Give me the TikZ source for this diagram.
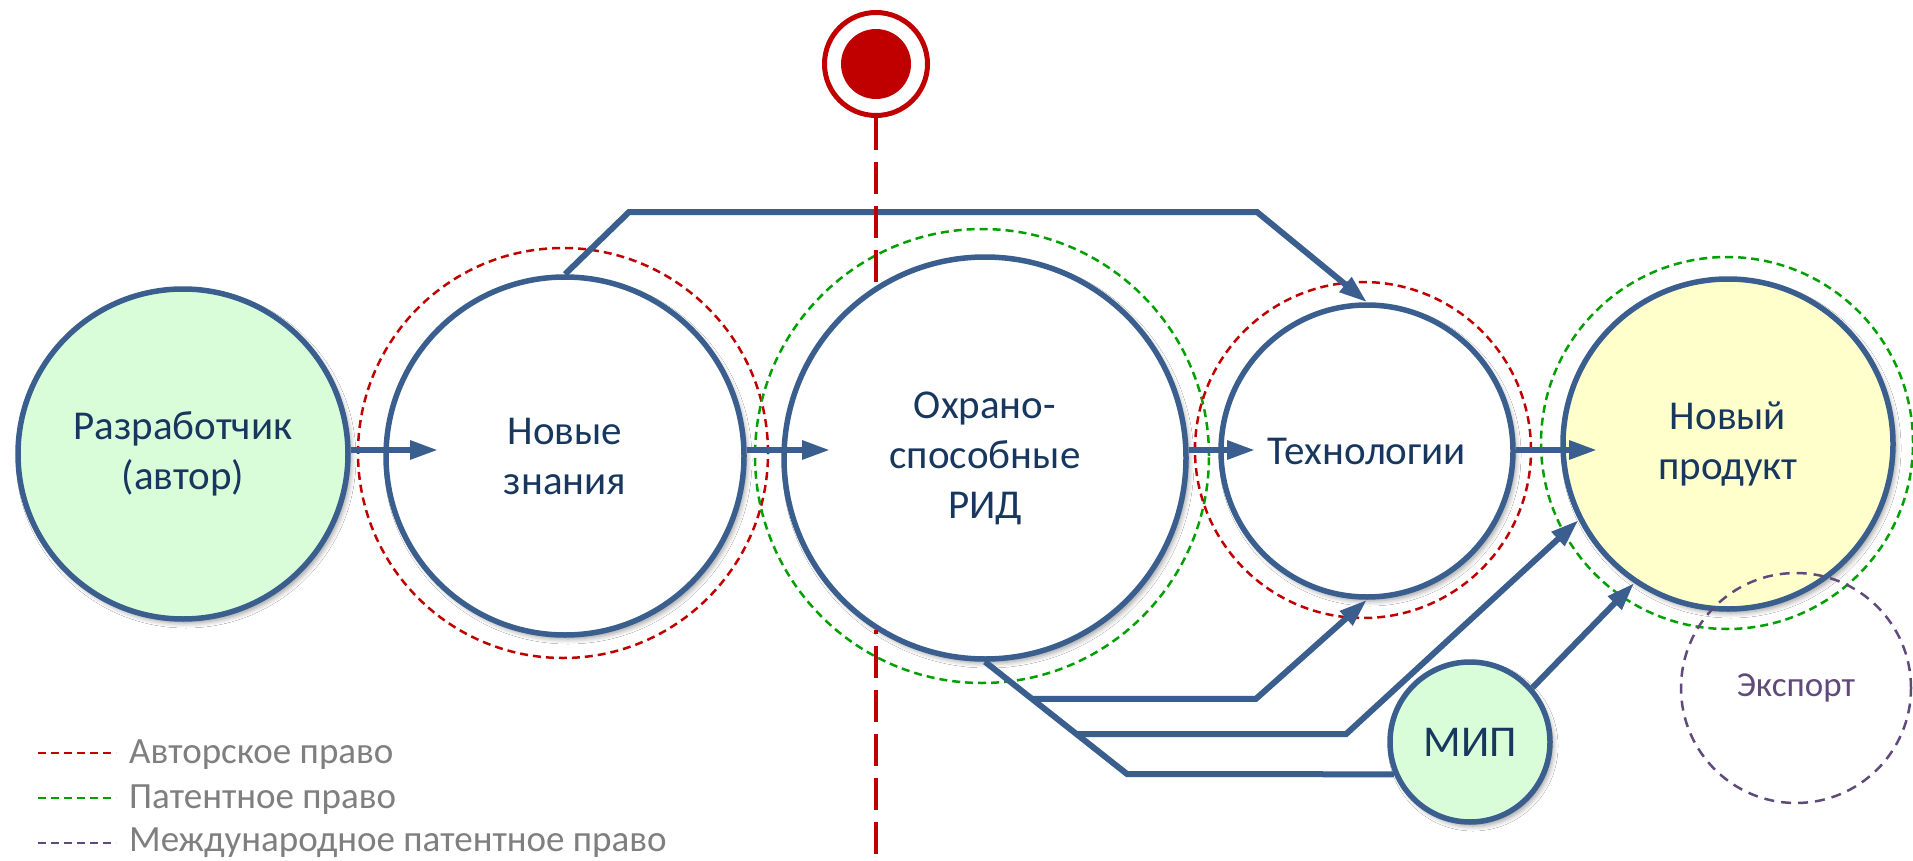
\documentclass[tikz,border=0pt]{standalone}
\usepackage{fontspec}
\setmainfont{Carlito}
\usetikzlibrary{arrows.meta,calc,shadows.blur}
\definecolor{cblue}{HTML}{3A5F8F}
\definecolor{ctext}{HTML}{17375E}
\definecolor{cgreenfill}{HTML}{D9FCD9}
\definecolor{cyellow}{HTML}{FFFFCC}
\definecolor{cred}{HTML}{C00000}
\definecolor{cgreen}{HTML}{00A000}
\definecolor{cpurple}{HTML}{604A7B}
\definecolor{cgray}{HTML}{7F7F7F}
\tikzset{
  bub/.style={circle, draw=cblue, line width=5.5pt, fill=white, inner sep=0pt,
    text=ctext, align=center, font=\fontsize{41}{50}\selectfont,
    blur shadow={shadow xshift=3pt, shadow yshift=-4pt, shadow blur radius=5pt, shadow blur steps=6}},
  redring/.style={circle, draw=cred, line width=2.5pt, dash pattern=on 8pt off 5pt, inner sep=0pt},
  grnring/.style={circle, draw=cgreen, line width=2.5pt, dash pattern=on 8pt off 5pt, inner sep=0pt},
  purring/.style={circle, draw=cpurple, line width=2.5pt, dash pattern=on 10pt off 7pt, inner sep=0pt,
    text=cpurple, font=\fontsize{35}{40}\selectfont},
  link/.style={draw=cblue, line width=6pt},
  arr/.style={link, -{Triangle[length=28pt,width=18pt]}},
  vline/.style={draw=cred, line width=4pt, dash pattern=on 32pt off 12pt},
  legtext/.style={anchor=base west, text=cgray, font=\fontsize{37}{45}\selectfont, inner sep=0pt},
}
\begin{document}
\begin{tikzpicture}[x=1pt,y=-1pt]
\useasboundingbox[fill=white] (0,0) rectangle (1913,861);

% main circles
\node[bub, fill=cgreenfill, minimum size=330pt] (dev) at (183,454) {Разработчик\\(автор)};
\node[bub, minimum size=358pt] (know) at (565,456) {Новые\\знания};
\node[bub, minimum size=402pt] (rid) at (985,458) {Охрано-\\способные\\РИД};
\node[bub, minimum size=292pt] (tech) at (1367,451) {Технологии};
\node[bub, fill=cyellow, minimum size=330pt] (prod) at (1728,444) {Новый\\продукт};
\node[bub, fill=cgreenfill, minimum size=160pt, font=\fontsize{44}{50}\selectfont] (mip) at (1470,742) {МИП};

% dashed rings
\node[redring, minimum size=410pt] (r2) at (563,453) {};
\node[grnring, minimum size=454pt] (r3) at (982,456) {};
\node[redring, minimum size=336pt] (r4) at (1363,450) {};
\node[grnring, minimum size=372pt] (r5) at (1727,443) {};
\node[purring, minimum size=230pt] (exp) at (1796,688) {Экспорт};

% horizontal arrows
\coordinate (t12) at (438,450);
\coordinate (t23) at (830,450);
\coordinate (t34) at (1255,450);
\coordinate (t45) at (1597,450);
\draw[arr] (dev.east |- t12) -- (t12);
\draw[arr] (know.east |- t23) -- (t23);
\draw[arr] (rid.east |- t34) -- (t34);
\draw[arr] (tech.east |- t45) -- (t45);

% top connector
\coordinate (k1) at (629,212);
\coordinate (k2) at (1257,212);
\draw[arr] (know.north) -- (k1) -- (k2) -- (tech.north);

% bottom connectors
\coordinate (b0) at (1127,774);
\draw[link] (rid.south) -- (b0) -- (mip.203);
\coordinate (jc) at ($(rid.south)!0.33!(b0)$);
\coordinate (jb) at ($(rid.south)!0.645!(b0)$);
\coordinate (c1) at (1256,0);
\coordinate (c2) at (1346,0);
\draw[arr] (jc) -- (jc -| c1) -- (tech.south);
\draw[arr] (jb) -- (jb -| c2) -- (prod.207.5);
\draw[arr] (mip.41) -- (prod.236);

% target and boundary line
\node[circle, draw=cred, line width=5pt, minimum size=103pt, inner sep=0pt] (target) at (876,64) {};
\node[circle, fill=cred, minimum size=70pt, inner sep=0pt] (bull) at (target.center) {};
\coordinate (vA) at (876,289);
\coordinate (vB) at (876,630);
\coordinate (vC) at (876,855);
\draw[vline] (target.south) -- (vA);
\draw[vline, dash phase=28pt] (vB) -- (vC);

% legend
\coordinate (la1) at (38,753); \coordinate (la2) at (116,753);
\coordinate (lb1) at (38,798); \coordinate (lb2) at (116,798);
\coordinate (lc1) at (38,843); \coordinate (lc2) at (116,843);
\draw[draw=cred, line width=2.5pt, dash pattern=on 8pt off 5pt] (la1) -- (la2);
\draw[draw=cgreen, line width=2.5pt, dash pattern=on 8pt off 5pt] (lb1) -- (lb2);
\draw[draw=cpurple, line width=2.5pt, dash pattern=on 8pt off 5pt] (lc1) -- (lc2);
\node[legtext] (lgA) at (129,763) {Авторское право};
\node[legtext] (lgB) at (129,808) {Патентное право};
\node[legtext] (lgC) at (129,851) {Международное патентное право};
\end{tikzpicture}
\end{document}
